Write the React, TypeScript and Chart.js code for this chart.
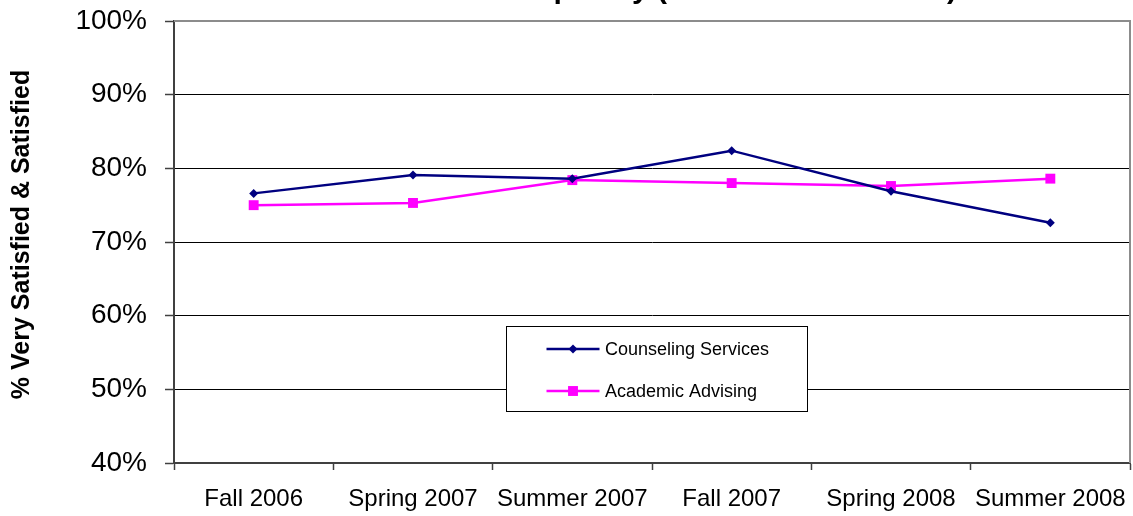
import React, { useEffect, useRef } from 'react';
import { Chart, registerables } from 'chart.js';

Chart.register(...registerables);

const categories = ['Fall 2006', 'Spring 2007', 'Summer 2007', 'Fall 2007', 'Spring 2008', 'Summer 2008'];
const counselingServices = [76.6, 79.1, 78.6, 82.4, 76.9, 72.6];
const academicAdvising = [75.0, 75.3, 78.4, 78.0, 77.6, 78.6];
const yTickValues = [40, 50, 60, 70, 80, 90, 100];
const seriesNames = ['Counseling Services', 'Academic Advising'];
const chartTitle = 'Student Satisfaction Trend and Service Frequency (Overall Satisfaction)';
const yAxisTitle = '% Very Satisfied & Satisfied';

const FONT = '"Liberation Sans", Arial, Helvetica, sans-serif';
const NAVY = '#000080';
const MAGENTA = '#FF00FF';
const AXIS = '#404040';
const FRAME = '#8c8c8c';

function drawMarker(ctx: CanvasRenderingContext2D, style: string, x: number, y: number, r: number, color: string) {
  ctx.save();
  ctx.fillStyle = color;
  ctx.beginPath();
  if (style === 'rectRot') {
    ctx.moveTo(x, y - r);
    ctx.lineTo(x + r, y);
    ctx.lineTo(x, y + r);
    ctx.lineTo(x - r, y);
    ctx.closePath();
  } else {
    const h = Math.SQRT1_2 * r;
    ctx.rect(x - h, y - h, 2 * h, 2 * h);
  }
  ctx.fill();
  ctx.restore();
}

const decorPlugin = {
  id: 'decor',
  beforeDatasetsDraw(chart: any) {
    const { ctx, chartArea: ca } = chart;
    ctx.save();
    ctx.strokeStyle = FRAME;
    ctx.lineWidth = 2;
    ctx.beginPath();
    ctx.moveTo(ca.left, ca.top);
    ctx.lineTo(ca.right, ca.top);
    ctx.lineTo(ca.right, ca.bottom);
    ctx.stroke();
    ctx.restore();
  },
  afterDraw(chart: any) {
    const { ctx, chartArea: ca } = chart;
    ctx.save();
    // Title (mostly cut off by the top edge of the picture)
    ctx.font = 'bold 30px ' + FONT;
    ctx.fillStyle = '#000';
    ctx.textAlign = 'right';
    ctx.textBaseline = 'alphabetic';
    ctx.fillText(chartTitle, 957, -2);

    // Y axis title
    ctx.save();
    ctx.translate(22, 234.5);
    ctx.rotate(-Math.PI / 2);
    ctx.font = 'bold 25px ' + FONT;
    ctx.textAlign = 'center';
    ctx.textBaseline = 'middle';
    ctx.fillText(yAxisTitle, 0, 0);
    ctx.restore();

    // Legend box inside the plot
    const bx = Math.round(ca.left + 332) + 0.5;
    const by = Math.round(ca.top + 305) + 0.5;
    const bw = 301;
    const bh = 85;
    ctx.fillStyle = '#fff';
    ctx.fillRect(bx, by, bw, bh);
    ctx.strokeStyle = '#000';
    ctx.lineWidth = 1;
    ctx.strokeRect(bx, by, bw, bh);
    const rows = [by + 22.5, by + 64.5];
    chart.data.datasets.forEach((ds: any, i: number) => {
      const y = rows[i];
      ctx.strokeStyle = ds.borderColor;
      ctx.lineWidth = 2.5;
      ctx.beginPath();
      ctx.moveTo(bx + 40, y);
      ctx.lineTo(bx + 93, y);
      ctx.stroke();
      drawMarker(ctx, ds.pointStyle, bx + 66.5, y, ds.pointStyle === 'rect' ? 7 : 4.5, ds.borderColor);
      ctx.fillStyle = '#000';
      ctx.font = '18px ' + FONT;
      ctx.textAlign = 'left';
      ctx.textBaseline = 'middle';
      ctx.fillText(ds.label, bx + 98.5, y + 1);
    });
    ctx.restore();
  },
};

export default function App() {
  const ref = useRef<HTMLCanvasElement | null>(null);
  useEffect(() => {
    if (!ref.current) return;
    const chart = new Chart(ref.current, {
      type: 'line',
      data: {
        labels: categories,
        datasets: [
          {
            label: seriesNames[0],
            data: counselingServices,
            borderColor: NAVY,
            backgroundColor: NAVY,
            borderWidth: 2.5,
            pointStyle: 'rectRot',
            pointRadius: 4.5,
            pointBorderWidth: 0,
            pointBackgroundColor: NAVY,
            tension: 0,
          },
          {
            label: seriesNames[1],
            data: academicAdvising,
            borderColor: MAGENTA,
            backgroundColor: MAGENTA,
            borderWidth: 2.5,
            pointStyle: 'rect',
            pointRadius: 7,
            pointBorderWidth: 0,
            pointBackgroundColor: MAGENTA,
            tension: 0,
          },
        ],
      },
      options: {
        responsive: false,
        animation: false,
        devicePixelRatio: 1,
        layout: { autoPadding: false, padding: { top: 21, right: 3, left: 0, bottom: 0 } },
        plugins: {
          legend: { display: false },
          tooltip: { enabled: false },
          title: { display: false },
        },
        scales: {
          x: {
            type: 'category',
            offset: true,
            grid: {
              offset: true,
              drawOnChartArea: false,
              drawTicks: true,
              tickLength: 7,
              tickColor: AXIS,
              tickWidth: 1.5,
            },
            border: { color: AXIS, width: 2 },
            ticks: {
              color: '#000',
              font: { family: FONT, size: 24 },
              padding: 15,
              maxRotation: 0,
              autoSkip: false,
            },
            afterFit(scale: any) {
              scale.height = 53;
              scale.paddingLeft = 0;
              scale.paddingRight = 0;
            },
          },
          y: {
            min: 40,
            max: 100,
            afterBuildTicks(scale: any) {
              scale.ticks = yTickValues.map((v) => ({ value: v }));
            },
            grid: {
              color: (c: any) => (c.tick && (c.tick.value === 40 || c.tick.value === 100) ? 'rgba(0,0,0,0)' : '#000'),
              lineWidth: 1,
              tickColor: AXIS,
              tickLength: 9,
              tickWidth: 1.5,
            },
            border: { color: AXIS, width: 2 },
            ticks: {
              color: '#000',
              font: { family: FONT, size: 28 },
              padding: 18,
              callback: (v: any) => v + '%',
            },
            afterFit(scale: any) {
              scale.width = 174;
              scale.paddingTop = 0;
              scale.paddingBottom = 0;
            },
          },
        },
      },
      plugins: [decorPlugin],
    });
    return () => chart.destroy();
  }, []);
  return (
    <div style={{ position: 'absolute', left: 0, top: 0, width: 1133, height: 516, background: '#fff' }}>
      <canvas ref={ref} width={1133} height={516} style={{ display: 'block' }} />
    </div>
  );
}
